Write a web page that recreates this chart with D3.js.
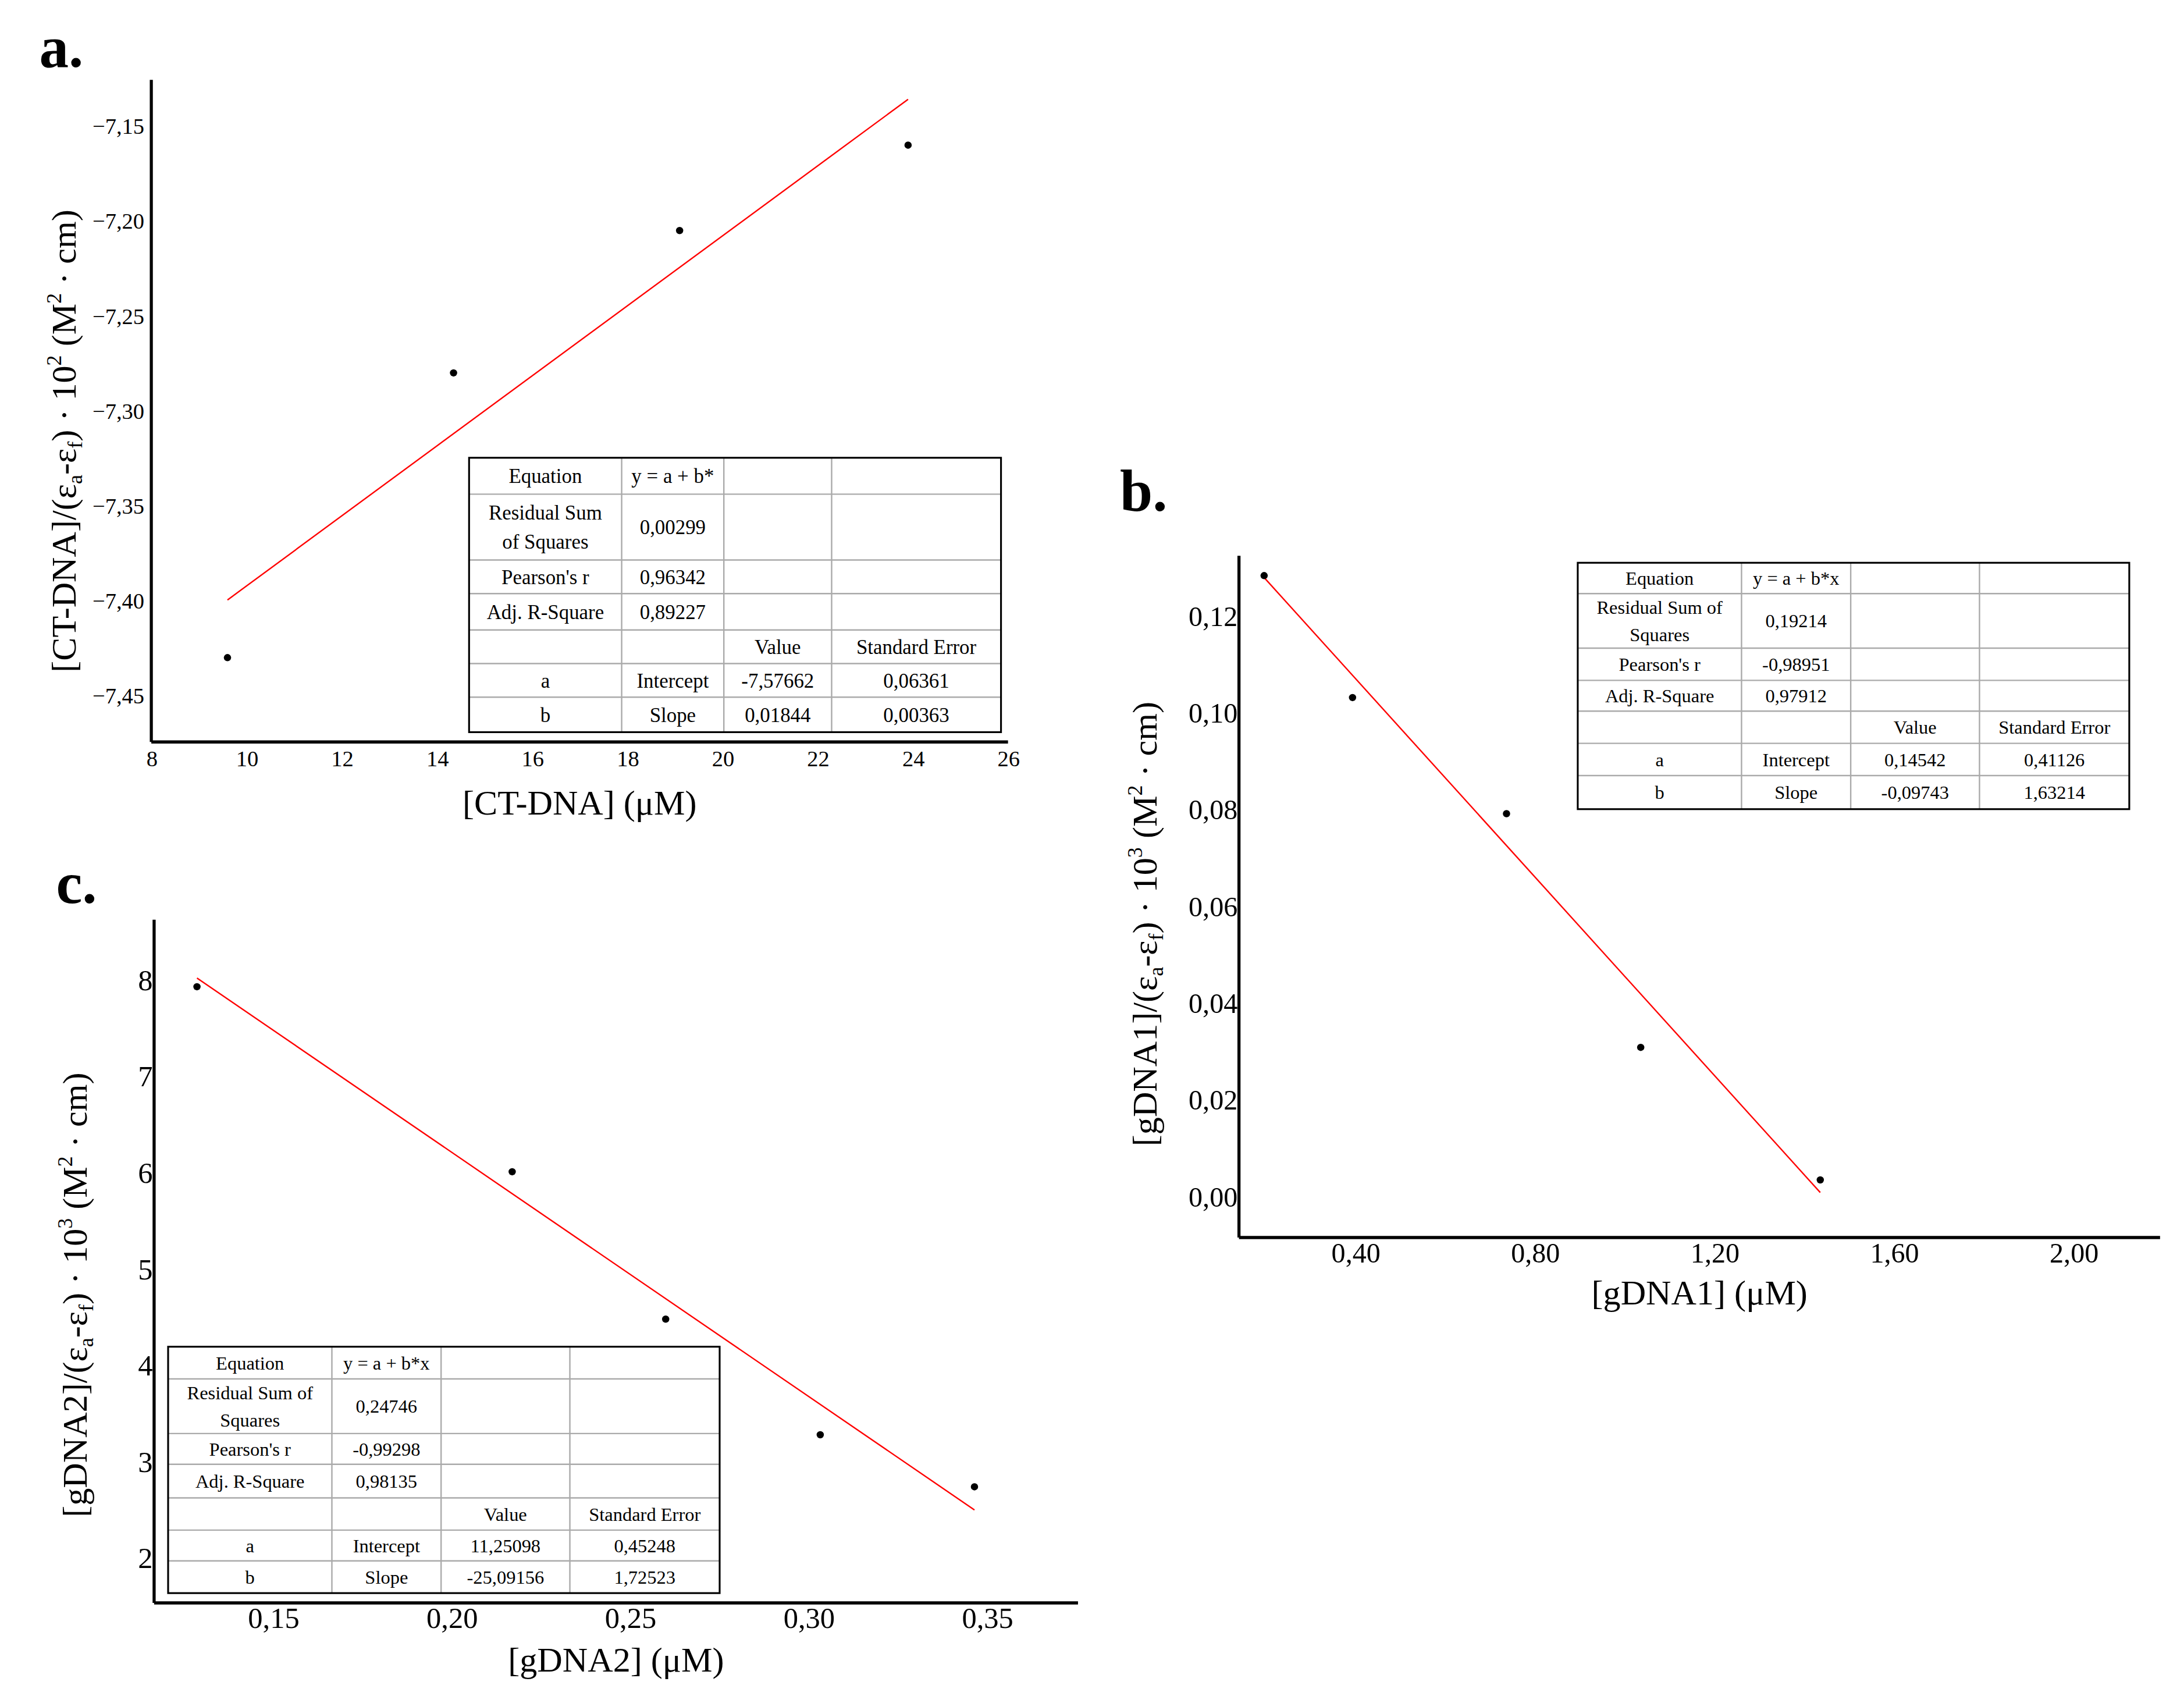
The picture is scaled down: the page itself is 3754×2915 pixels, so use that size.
<!DOCTYPE html>
<html>
<head>
<script src="https://d3js.org/d3.v7.min.js"></script>
<style>
  body { margin: 0; background: white; }
  text { font-family: 'Liberation Serif', serif; fill: black; }
  .sans { font-family: 'Liberation Sans', sans-serif; }
</style>
</head>
<body>
<script>
// ---- data ----
var aX = [9.6, 14.35, 19.1, 23.9];
var aY = [-7.43, -7.28, -7.205, -7.16];
var aLineX = [9.6, 23.9];
var aLineY = [-7.3996, -7.1359];
var aXTicks = [8, 10, 12, 14, 16, 18, 20, 22, 24, 26];
var aYTicks = [-7.15, -7.20, -7.25, -7.30, -7.35, -7.40, -7.45];
var aTable = [
  ["Equation", "y = a + b*", "", ""],
  ["Residual Sum\nof Squares", "0,00299", "", ""],
  ["Pearson's r", "0,96342", "", ""],
  ["Adj. R-Square", "0,89227", "", ""],
  ["", "", "Value", "Standard Error"],
  ["a", "Intercept", "-7,57662", "0,06361"],
  ["b", "Slope", "0,01844", "0,00363"]
];

var bX = [0.197, 0.394, 0.737, 1.036, 1.436];
var bY = [0.1284, 0.1032, 0.0792, 0.0309, 0.0035];
var bLineX = [0.197, 1.436];
var bLineY = [0.128, 0.0009];
var bXTicks = [0.40, 0.80, 1.20, 1.60, 2.00];
var bYTicks = [0.00, 0.02, 0.04, 0.06, 0.08, 0.10, 0.12];
var bTable = [
  ["Equation", "y = a + b*x", "", ""],
  ["Residual Sum of\nSquares", "0,19214", "", ""],
  ["Pearson's r", "-0,98951", "", ""],
  ["Adj. R-Square", "0,97912", "", ""],
  ["", "", "Value", "Standard Error"],
  ["a", "Intercept", "0,14542", "0,41126"],
  ["b", "Slope", "-0,09743", "1,63214"]
];

var cX = [0.1287, 0.217, 0.260, 0.3033, 0.3465];
var cY = [7.93, 6.01, 4.48, 3.28, 2.74];
var cLineX = [0.1287, 0.3465];
var cLineY = [8.02, 2.50];
var cXTicks = [0.15, 0.20, 0.25, 0.30, 0.35];
var cYTicks = [2, 3, 4, 5, 6, 7, 8];
var cTable = [
  ["Equation", "y = a + b*x", "", ""],
  ["Residual Sum of\nSquares", "0,24746", "", ""],
  ["Pearson's r", "-0,99298", "", ""],
  ["Adj. R-Square", "0,98135", "", ""],
  ["", "", "Value", "Standard Error"],
  ["a", "Intercept", "11,25098", "0,45248"],
  ["b", "Slope", "-25,09156", "1,72523"]
];

var W = 1560, H = 1211.5;
var svg = d3.select('body').append('svg')
    .attr('width', 3754).attr('height', 2915)
    .attr('viewBox', '0 0 ' + W + ' ' + H);
svg.append('rect').attr('width', W).attr('height', H).attr('fill', 'white');

var comma = function(n) { return function(d) { return d3.format('.' + n + 'f')(d).replace('.', ','); }; };

function panel(o) {
  var x = d3.scaleLinear().domain(o.xDom).range([o.left, o.right]);
  var y = d3.scaleLinear().domain(o.yDom).range([o.bottom, o.top]);
  var g = svg.append('g');

  // table first so line and points sit on top like the reference
  drawTable(g, o.table, o.cols, o.rows, o.tFont);

  g.append('line').attr('x1', x(o.lx[0])).attr('y1', y(o.ly[0]))
    .attr('x2', x(o.lx[1])).attr('y2', y(o.ly[1]))
    .attr('stroke', '#ff0000').attr('stroke-width', 1);

  g.selectAll('circle.p').data(o.px).enter().append('circle')
    .attr('cx', function(d) { return x(d); })
    .attr('cy', function(d, i) { return y(o.py[i]); })
    .attr('r', 2.6).attr('fill', 'black');

  var xa = g.append('g').attr('transform', 'translate(0,' + o.bottom + ')')
    .call(d3.axisBottom(x).tickValues(o.xTicks).tickSize(0).tickFormat(o.xFmt));
  var ya = g.append('g').attr('transform', 'translate(' + o.left + ',0)')
    .call(d3.axisLeft(y).tickValues(o.yTicks).tickSize(0).tickFormat(o.yFmt));
  [xa, ya].forEach(function(a) {
    a.select('.domain').attr('stroke', 'black').attr('stroke-width', 2.2);
    a.selectAll('text').attr('font-size', o.tickFont)
      .attr('font-family', o.tickFamily).attr('fill', '#222');
  });
  xa.selectAll('text').attr('dy', o.xDy);
  ya.selectAll('text').attr('dx', o.yDx);
  ya.select('.domain').attr('d', 'M0,' + o.bottom + 'V' + o.top);
  xa.select('.domain').attr('d', 'M' + o.left + ',0H' + o.right);

  g.append('text').attr('x', o.xtX).attr('y', o.xtY).attr('text-anchor', 'middle')
    .attr('font-size', 25).text(o.xTitle);

  var yt = g.append('text').attr('transform', 'translate(' + o.ytX + ',' + o.ytY + ') rotate(-90)')
    .attr('text-anchor', 'middle').attr('font-size', 25);
  var parts = [['[' + o.yName + ']/(ε', 0], ['a', -1], ['-ε', 0], ['f', -1], [') · 10', 0],
               [o.pow, 1], [' (M', 0], ['2', 1], [' · cm)', 0]];
  parts.forEach(function(p) {
    var t = yt.append('tspan').text(p[0]);
    if (p[1] === -1) t.attr('font-size', 15).attr('baseline-shift', '-30%');
    if (p[1] === 1) t.attr('font-size', 15).attr('baseline-shift', '70%');
  });

  svg.append('text').attr('x', o.lab[0]).attr('y', o.lab[1]).attr('font-size', 42)
    .attr('font-weight', 'bold').text(o.label);
}

function drawTable(g, data, cols, rows, fs) {
  var t = g.append('g');
  t.append('rect').attr('x', cols[0]).attr('y', rows[0])
    .attr('width', cols[cols.length - 1] - cols[0]).attr('height', rows[rows.length - 1] - rows[0])
    .attr('fill', 'white');
  cols.slice(1, -1).forEach(function(c) {
    t.append('line').attr('x1', c).attr('x2', c).attr('y1', rows[0]).attr('y2', rows[rows.length - 1])
      .attr('stroke', '#aaa').attr('stroke-width', 1);
  });
  rows.slice(1, -1).forEach(function(r) {
    t.append('line').attr('y1', r).attr('y2', r).attr('x1', cols[0]).attr('x2', cols[cols.length - 1])
      .attr('stroke', '#aaa').attr('stroke-width', 1);
  });
  t.append('rect').attr('x', cols[0]).attr('y', rows[0])
    .attr('width', cols[cols.length - 1] - cols[0]).attr('height', rows[rows.length - 1] - rows[0])
    .attr('fill', 'none').attr('stroke', 'black').attr('stroke-width', 1.3);
  data.forEach(function(row, i) {
    row.forEach(function(cell, j) {
      if (!cell) return;
      var lines = cell.split('\n');
      var cx = (cols[j] + cols[j + 1]) / 2, cy = (rows[i] + rows[i + 1]) / 2;
      var lh = fs * 1.45;
      lines.forEach(function(l, k) {
        t.append('text').attr('x', cx).attr('y', cy + (k - (lines.length - 1) / 2) * lh)
          .attr('dy', '0.35em').attr('text-anchor', 'middle').attr('font-size', fs)
          .attr('fill', '#222').text(l);
      });
    });
  });
}

panel({
  label: 'a.', lab: [28, 48],
  left: 108, right: 720, top: 57, bottom: 530,
  xDom: [8, 26], yDom: [-7.4744, -7.1256],
  px: aX, py: aY, lx: aLineX, ly: aLineY,
  xTicks: aXTicks, yTicks: aYTicks, xFmt: d3.format('d'), yFmt: comma(2),
  tickFont: 16, tickFamily: 'Liberation Sans, sans-serif', xDy: '0.9em', yDx: '-2',
  xTitle: '[CT-DNA] (μM)', xtX: 414, xtY: 582,
  yName: 'CT-DNA', pow: '2', ytX: 54, ytY: 315,
  table: aTable, cols: [335, 444, 517, 594, 715], rows: [327, 353, 400, 424, 450, 474, 498, 523], tFont: 14.5
});

panel({
  label: 'b.', lab: [800, 365],
  left: 885, right: 1543, top: 397, bottom: 884,
  xDom: [0.141, 2.193], yDom: [-0.0084, 0.1325],
  px: bX, py: bY, lx: bLineX, ly: bLineY,
  xTicks: bXTicks, yTicks: bYTicks, xFmt: comma(2), yFmt: comma(2),
  tickFont: 20, tickFamily: 'Liberation Serif, serif', xDy: '0.75em', yDx: '2',
  xTitle: '[gDNA1] (μM)', xtX: 1214, xtY: 932,
  yName: 'gDNA1', pow: '3', ytX: 826, ytY: 660,
  table: bTable, cols: [1127, 1244, 1322, 1414, 1521], rows: [402, 424, 463, 486, 508, 531, 554, 578], tFont: 13.5
});

panel({
  label: 'c.', lab: [40, 645],
  left: 110, right: 770, top: 657, bottom: 1145,
  xDom: [0.1167, 0.3755], yDom: [1.535, 8.625],
  px: cX, py: cY, lx: cLineX, ly: cLineY,
  xTicks: cXTicks, yTicks: cYTicks, xFmt: comma(2), yFmt: d3.format('d'),
  tickFont: 21, tickFamily: 'Liberation Serif, serif', xDy: '0.7em', yDx: '2',
  xTitle: '[gDNA2] (μM)', xtX: 440, xtY: 1194,
  yName: 'gDNA2', pow: '3', ytX: 62, ytY: 925,
  table: cTable, cols: [120, 237, 315, 407, 514], rows: [962, 985, 1024, 1046, 1070, 1093, 1115, 1138], tFont: 13.5
});
</script>
</body>
</html>
